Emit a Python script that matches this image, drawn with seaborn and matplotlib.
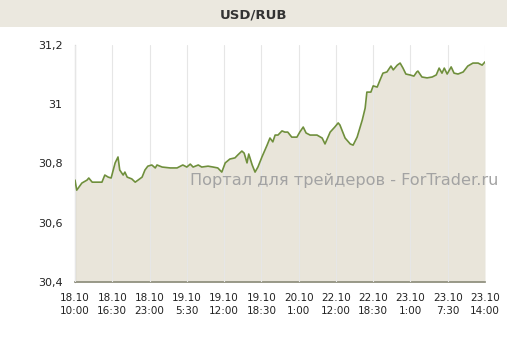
import matplotlib
matplotlib.use("Agg")
import matplotlib.pyplot as plt
import seaborn as sns
import pandas as pd
import numpy as np

# ---- data ----
hours = [0.0, 0.3, 1.2, 2.1, 2.4, 3.0, 3.8, 4.7, 5.2, 5.8, 6.3, 7.0, 7.5, 7.8, 8.4, 8.7,
         9.1, 9.9, 10.5, 11.0, 11.7, 12.2, 12.7, 13.4, 14.0, 14.3, 15.2, 16.6, 17.8, 18.8,
         19.5, 20.1, 20.6, 21.5, 22.1, 23.2, 24.1, 24.9, 25.6, 26.2, 27.0, 27.9, 28.4,
         29.1, 29.5, 30.0, 30.3, 30.9, 31.4, 31.9, 32.6, 33.5, 34.0, 34.5, 34.9, 35.4,
         36.1, 36.6, 37.1, 37.8, 38.7, 39.2, 39.8, 40.3, 41.0, 42.2, 43.1, 43.6, 44.5,
         45.3, 45.9, 46.2, 47.1, 48.0, 48.5, 49.2, 50.1, 50.6, 50.9, 51.6, 52.0, 52.7,
         53.2, 53.7, 54.4, 55.1, 55.5, 56.2, 56.7, 57.2, 57.7, 58.4, 59.1, 59.6, 59.8,
         60.5, 61.4, 62.3, 63.0, 63.5, 64.0, 64.4, 64.9, 65.6, 66.1, 66.8, 67.7, 68.5,
         69.4, 70.3, 71.0, 71.5]
rate = [30.744, 30.710, 30.734, 30.744, 30.751, 30.737, 30.737, 30.737, 30.761, 30.754,
        30.751, 30.802, 30.822, 30.778, 30.761, 30.771, 30.754, 30.748, 30.737, 30.744,
        30.754, 30.778, 30.791, 30.795, 30.785, 30.795, 30.788, 30.785, 30.785, 30.795,
        30.788, 30.798, 30.788, 30.795, 30.788, 30.791, 30.788, 30.785, 30.771, 30.802,
        30.815, 30.819, 30.829, 30.842, 30.835, 30.802, 30.832, 30.795, 30.771, 30.788,
        30.822, 30.862, 30.886, 30.873, 30.896, 30.896, 30.910, 30.906, 30.906, 30.889,
        30.889, 30.906, 30.923, 30.903, 30.896, 30.896, 30.886, 30.866, 30.906, 30.923,
        30.937, 30.930, 30.886, 30.866, 30.862, 30.889, 30.947, 30.987, 31.041, 31.041,
        31.062, 31.058, 31.082, 31.105, 31.109, 31.129, 31.116, 31.132, 31.139, 31.122,
        31.102, 31.099, 31.095, 31.109, 31.112, 31.092, 31.089, 31.092, 31.099, 31.122,
        31.105, 31.122, 31.102, 31.126, 31.105, 31.102, 31.109, 31.129, 31.139, 31.139,
        31.132, 31.143]
tick_hours = [0, 6.5, 13, 19.5, 26, 32.5, 39, 45.5, 52, 58.5, 65, 71.5]
tick_labels = ["18.10\n10:00", "18.10\n16:30", "18.10\n23:00", "19.10\n5:30",
               "19.10\n12:00", "19.10\n18:30", "20.10\n1:00", "22.10\n12:00",
               "22.10\n18:30", "23.10\n1:00", "23.10\n7:30", "23.10\n14:00"]
y_ticks = [30.4, 30.6, 30.8, 31.0, 31.2]
y_labels = ["30,4", "30,6", "30,8", "31", "31,2"]
title = "USD/RUB"
watermark = "Портал для трейдеров - ForTrader.ru"

df = pd.DataFrame({"hours": hours, "rate": rate})

sns.set_style("white")
plt.rcParams['font.family'] = ['DejaVu Sans']

fig = plt.figure(figsize=(5.07, 3.37), dpi=100)
fig.patch.set_facecolor("white")

# title band
band = fig.add_axes([0, 1 - 27/337, 1, 27/337])
band.set_facecolor("#ebe8df")
band.set_xticks([]); band.set_yticks([])
for s in band.spines.values():
    s.set_visible(False)
band.text(0.5, 0.45, title, ha="center", va="center", fontsize=9.5, fontweight="bold",
          color="#333333", transform=band.transAxes)

ax = fig.add_axes([75/507, 1 - 282/337, 410/507, 237/337])
ax.fill_between(df["hours"], df["rate"], 30.4, color="#e9e5da", linewidth=0, zorder=1)
sns.lineplot(data=df, x="hours", y="rate", ax=ax, color="#6f8f3c", linewidth=1.2, zorder=3)

ax.set_xlim(0, 71.5)
ax.set_ylim(30.4, 31.2)
ax.set_xticks(tick_hours)
ax.set_xticklabels(tick_labels, fontsize=7.5, color="#222222", linespacing=1.35)
ax.set_yticks(y_ticks)
ax.set_yticklabels(y_labels, fontsize=8, color="#222222")
ax.set_xlabel(""); ax.set_ylabel("")

ax.grid(axis="x", color="#e6e6e6", linewidth=0.8, zorder=2)
ax.grid(axis="y", visible=False)
ax.set_axisbelow(False)
for line in ax.get_xgridlines():
    line.set_zorder(2)

ax.spines["top"].set_visible(False)
ax.spines["right"].set_visible(False)
ax.spines["left"].set_color("#8c8c8c")
ax.spines["bottom"].set_color("#8a8a78")
ax.spines["bottom"].set_linewidth(1.2)
ax.tick_params(axis="x", direction="out", length=4, color="#8a8a78", pad=4)
ax.tick_params(axis="y", direction="out", length=4, color="#8c8c8c", pad=5)

fig.text(190/507, 1 - 180/337, watermark, fontsize=11.6, color="#a3a3a3",
         ha="left", va="center", zorder=10)

fig.savefig("out.png", dpi=100)
